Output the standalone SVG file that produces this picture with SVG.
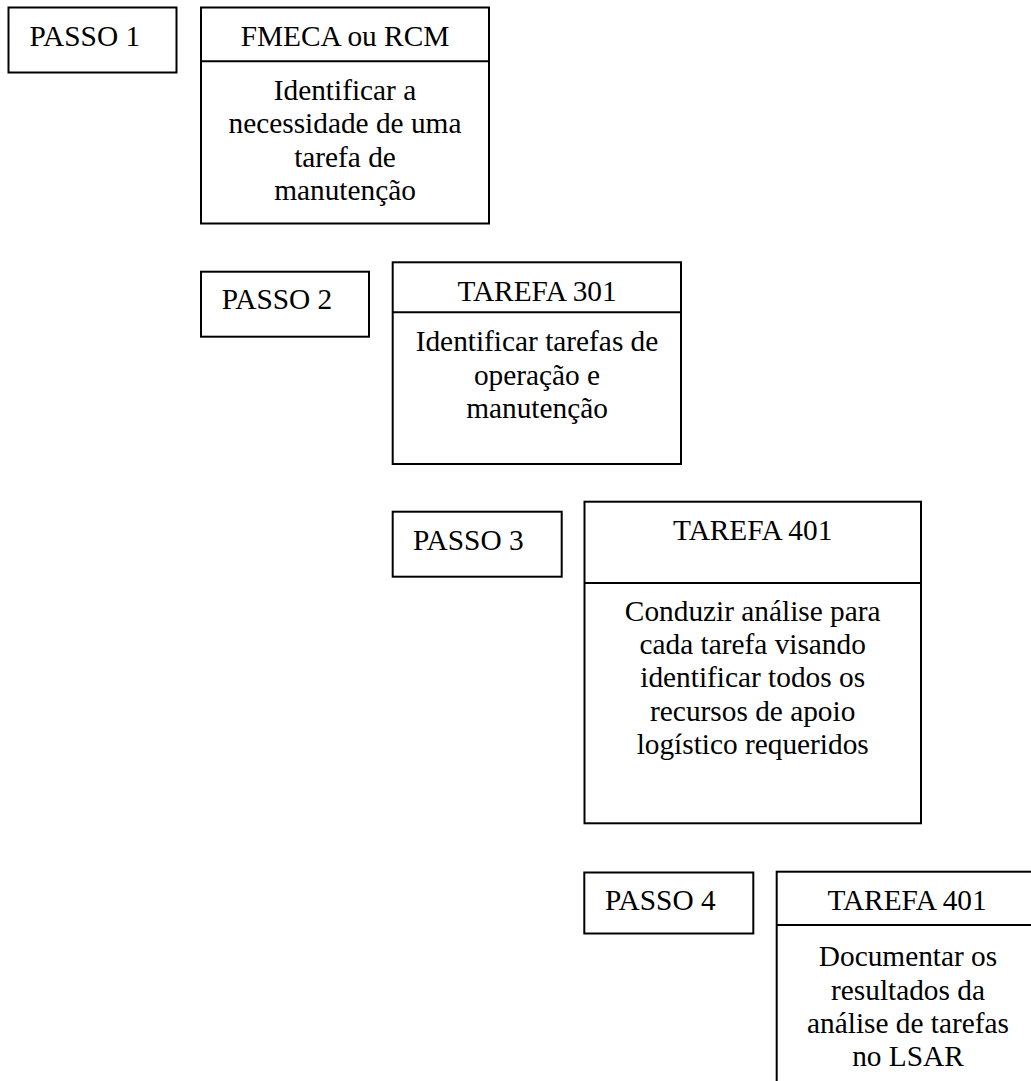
<svg xmlns="http://www.w3.org/2000/svg" width="1031" height="1081" viewBox="0 0 1031 1081">
<style>
.box{fill:#fff;stroke:#000;stroke-width:2}
.div{stroke:#000;stroke-width:2}
text{font-family:"Liberation Serif","Times New Roman",serif;font-size:29.33px;fill:#000}
.c{text-anchor:middle}
</style>
<rect width="1031" height="1081" fill="#fff"/>
<g id="passo1">
<rect class="box" x="8.5" y="7.5" width="168" height="65"/>
<text x="29.5" y="45.7">PASSO 1</text>
</g>
<g id="fmeca">
<rect class="box" x="201" y="7.5" width="288" height="216"/>
<line class="div" x1="201" y1="61.3" x2="489" y2="61.3"/>
<text class="c" x="345" y="45.7">FMECA ou RCM</text>
<text class="c" x="345" y="100">Identificar a</text>
<text class="c" x="345" y="133">necessidade de uma</text>
<text class="c" x="345" y="166.5">tarefa de</text>
<text class="c" x="345" y="200">manutenção</text>
</g>
<g id="passo2">
<rect class="box" x="201" y="271.7" width="168" height="65"/>
<text x="221.7" y="309.3">PASSO 2</text>
</g>
<g id="tarefa301">
<rect class="box" x="392.7" y="262.3" width="288.3" height="201.7"/>
<line class="div" x1="392.7" y1="312.3" x2="681" y2="312.3"/>
<text class="c" x="537" y="300.7">TAREFA 301</text>
<text class="c" x="537" y="351">Identificar tarefas de</text>
<text class="c" x="537" y="384.5">operação e</text>
<text class="c" x="537" y="418.3">manutenção</text>
</g>
<g id="passo3">
<rect class="box" x="392.7" y="511.7" width="169" height="65"/>
<text x="413" y="550">PASSO 3</text>
</g>
<g id="tarefa401a">
<rect class="box" x="584.5" y="501.7" width="336.5" height="321.6"/>
<line class="div" x1="584.5" y1="583" x2="921" y2="583"/>
<text class="c" x="752.7" y="539.5">TAREFA 401</text>
<text class="c" x="752.7" y="621">Conduzir análise para</text>
<text class="c" x="752.7" y="654">cada tarefa visando</text>
<text class="c" x="752.7" y="687">identificar todos os</text>
<text class="c" x="752.7" y="720.5">recursos de apoio</text>
<text class="c" x="752.7" y="754.3">logístico requeridos</text>
</g>
<g id="passo4">
<rect class="box" x="584.3" y="872.5" width="169" height="61"/>
<text x="605" y="910">PASSO 4</text>
</g>
<g id="tarefa401b">
<rect class="box" x="776.7" y="871.7" width="262" height="240"/>
<line class="div" x1="776.7" y1="925" x2="1040" y2="925"/>
<text class="c" x="907" y="910">TAREFA 401</text>
<text class="c" x="908" y="965.5">Documentar os</text>
<text class="c" x="908" y="999.5">resultados da</text>
<text class="c" x="908" y="1033">análise de tarefas</text>
<text class="c" x="908" y="1065.5">no LSAR</text>
</g>
<g id="connectors"/>
</svg>
